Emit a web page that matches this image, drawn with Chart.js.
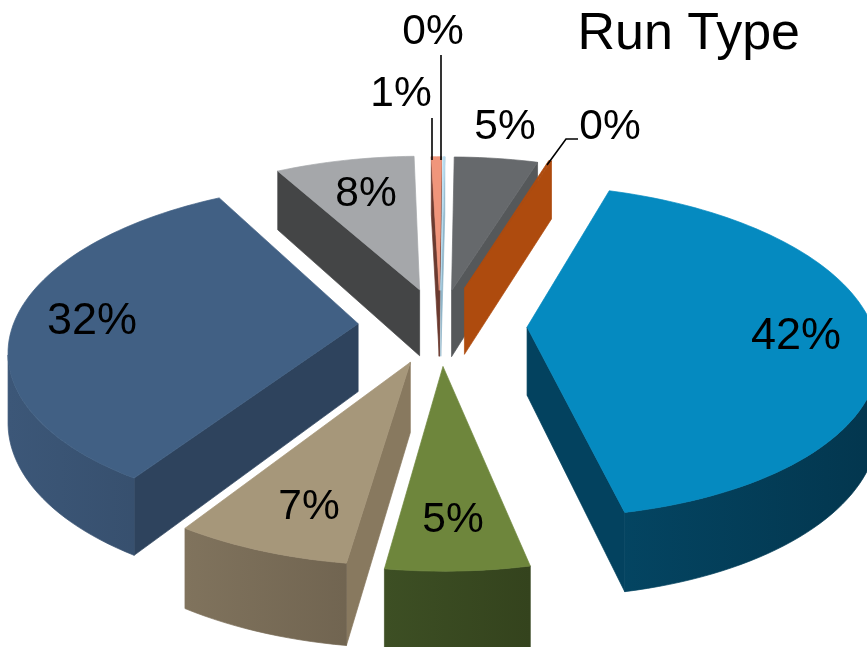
<!DOCTYPE html>
<html>
<head>
<meta charset="utf-8">
<style>
  html, body { margin: 0; padding: 0; background: #fff; }
  canvas { display: block; }
</style>
<script src="https://cdn.jsdelivr.net/npm/chart.js@4"></script>
</head>
<body>
<canvas id="graficoRunType" width="867" height="647"></canvas>
<script>
// clockwise from the top of the pie
var categorias = ['A', 'B', 'C', 'D', 'E', 'F', 'G', 'H', 'I'];
var valores = [4.5, 0.15, 41.2, 5.5, 6.8, 32.4, 7.5, 0.55, 0.1];
var rotulos = ['5%', '0%', '42%', '5%', '7%', '32%', '8%', '1%', '0%'];

// exploded distance of every slice
var afastamento = [76, 84, 87, 85, 82, 82, 80, 76, 76];

var corTopo = ['#66696c', '#ae4b0e', '#058ac0', '#6e863c', '#a6977a', '#416084', '#a5a7aa', '#f0957b', '#b8ddf0'];
var corLateral = ['#55585a', '#ae4b0e', '#03425f', '#3b4c22', '#88795f', '#2e435d', '#444546', '#6b3b30', '#8fb5c8'];
var corFora1 = ['#55585a', '#ae4b0e', '#044a69', '#3d4f24', '#80735d', '#3c5778', '#444546', '#6b3b30', '#8fb5c8'];
var corFora2 = ['#55585a', '#ae4b0e', '#03364e', '#34431d', '#6b5f4c', '#2e435d', '#444546', '#6b3b30', '#8fb5c8'];

// where the labels sit on the photo
var posRotulos = [[505, 127], [610, 127], [796, 337], [453, 520], [309, 507], [92, 322], [366, 194], [401, 94], [433, 32]];
var linhas = [
    [[432, 118], [432, 160]],
    [[441, 55], [441, 160]],
    [[578, 139], [566, 139], [547, 165]]
];

// perspective camera
var cx = 440, cy = 325, raio = 345, inclinacao = 0.47, distancia = 2400, altura = 68;

function projetar(x, y, z) {
    var g = distancia / (distancia - y);
    return { x: cx + x * g, y: cy + inclinacao * y * g + z * g };
}

// outline of one slice, taken from the arc element of the chart
function contorno(arco) {
    var ini = arco.startAngle, fim = arco.endAngle;
    var meio = (ini + fim) / 2;
    var off = arco.options.offset;
    var ox = Math.cos(meio) * off, oy = Math.sin(meio) * off;
    var pontos = [{ x: ox, y: oy, fora: false }];
    var passos = Math.max(2, Math.ceil((fim - ini) / 0.03));
    for (var i = 0; i <= passos; i++) {
        var t = ini + (fim - ini) * i / passos;
        pontos.push({ x: ox + Math.cos(t) * raio, y: oy + Math.sin(t) * raio, fora: true });
    }
    return pontos;
}

function preencher(ctx, pts, cor) {
    ctx.beginPath();
    pts.forEach(function (p, i) {
        if (i == 0) ctx.moveTo(p.x, p.y); else ctx.lineTo(p.x, p.y);
    });
    ctx.closePath();
    ctx.fillStyle = cor;
    ctx.strokeStyle = cor;
    ctx.lineWidth = 0.7;
    ctx.fill();
    ctx.stroke();
}

function desenharFatia(ctx, arco, i) {
    var pontos = contorno(arco);
    var cima = pontos.map(function (p) { return projetar(p.x, p.y, 0); });
    var baixo = pontos.map(function (p) { return projetar(p.x, p.y, altura); });
    var minX = Math.min.apply(null, cima.map(function (p) { return p.x; }));
    var maxX = Math.max.apply(null, cima.map(function (p) { return p.x; }));
    var grad = ctx.createLinearGradient(minX, 0, maxX, 0);
    grad.addColorStop(0, corFora1[i]);
    grad.addColorStop(1, corFora2[i]);

    var n = cima.length;
    // straight cut faces, only the ones facing the camera
    if (cima[1].x - cima[0].x < 0) preencher(ctx, [cima[0], cima[1], baixo[1], baixo[0]], corLateral[i]);
    if (cima[0].x - cima[n - 1].x < 0) preencher(ctx, [cima[n - 1], cima[0], baixo[0], baixo[n - 1]], corLateral[i]);

    // curved wall as one piece, otherwise the gradient shows seams
    var de = [], ate = [];
    for (var k = 1; k < n; k++) {
        var frente = (k < n - 1 && cima[k + 1].x - cima[k].x < 0) || (k > 1 && cima[k].x - cima[k - 1].x < 0);
        if (frente) { de.push(cima[k]); ate.unshift(baixo[k]); }
    }
    if (de.length > 1) preencher(ctx, de.concat(ate), grad);

    preencher(ctx, cima, corTopo[i]);
}

var pizza3d = {
    id: 'pizza3d',
    beforeDatasetDraw: function (chart) {
        var ctx = chart.ctx;
        var arcos = chart.getDatasetMeta(0).data;
        var ordem = arcos.map(function (a, i) { return i; });
        ordem.sort(function (p, q) {
            var mp = (arcos[p].startAngle + arcos[p].endAngle) / 2;
            var mq = (arcos[q].startAngle + arcos[q].endAngle) / 2;
            return Math.sin(mp) - Math.sin(mq);
        });
        ctx.save();
        ordem.forEach(function (i) { desenharFatia(ctx, arcos[i], i); });
        ctx.restore();
        return false;
    },
    afterDraw: function (chart) {
        var ctx = chart.ctx;
        ctx.save();
        ctx.strokeStyle = '#000';
        ctx.lineWidth = 1.6;
        linhas.forEach(function (l) {
            ctx.beginPath();
            l.forEach(function (p, i) {
                if (i == 0) ctx.moveTo(p[0], p[1]); else ctx.lineTo(p[0], p[1]);
            });
            ctx.stroke();
        });
        ctx.fillStyle = '#000';
        ctx.textAlign = 'center';
        ctx.textBaseline = 'middle';
        rotulos.forEach(function (r, i) {
            ctx.font = (r.length > 2 ? 45 : 42.5) + 'px "Liberation Sans"';
            ctx.fillText(r, posRotulos[i][0], posRotulos[i][1]);
        });
        ctx.restore();
    }
};

new Chart(document.getElementById('graficoRunType'), {
    type: 'pie',
    data: {
        labels: categorias,
        datasets: [{
            data: valores,
            backgroundColor: corTopo,
            offset: afastamento,
            borderWidth: 0
        }]
    },
    options: {
        responsive: false,
        animation: false,
        rotation: 0.8,
        layout: { padding: { right: 67 } },
        plugins: {
            legend: { display: false },
            tooltip: { enabled: false },
            title: {
                display: true,
                text: 'Run Type',
                align: 'end',
                color: '#000',
                font: { family: '"Liberation Sans"', size: 52, weight: 'normal' },
                padding: { top: 3, bottom: 0 }
            }
        }
    },
    plugins: [pizza3d]
});
</script>
</body>
</html>
